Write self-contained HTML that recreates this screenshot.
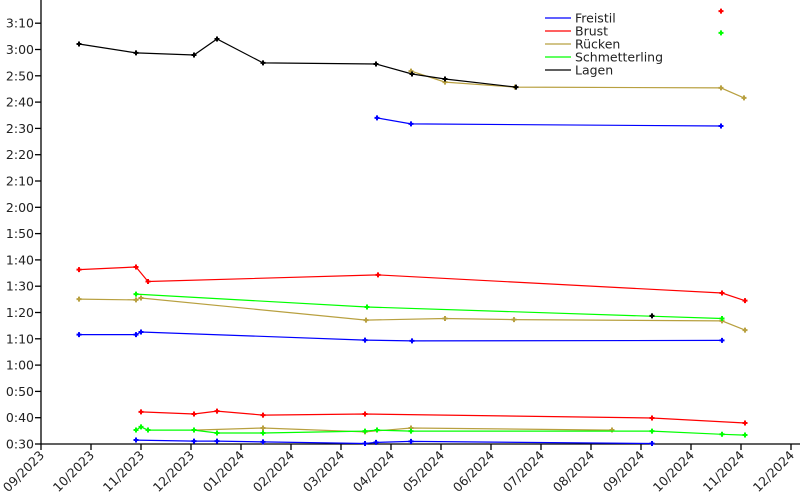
<!DOCTYPE html>
<html><head><meta charset="utf-8"><style>
html,body{margin:0;padding:0;background:#fff;}
svg{display:block;font-family:"DejaVu Sans","Liberation Sans",sans-serif;}
</style></head><body>
<svg id="chart" width="800" height="500" viewBox="0 0 800 500" xmlns="http://www.w3.org/2000/svg">
<g id="axes"></g>
<g id="series"></g>
<g id="legend"></g>
</svg>
<script>
// x in months since 09/2023, y in seconds
const monthLabels = ["09/2023","10/2023","11/2023","12/2023","01/2024","02/2024","03/2024","04/2024","05/2024","06/2024","07/2024","08/2024","09/2024","10/2024","11/2024","12/2024"];
const yTicks = [30,40,50,60,70,80,90,100,110,120,130,140,150,160,170,180,190];
const seriesNames = ["Freistil","Brust","Rücken","Schmetterling","Lagen"];
const seriesColors = ["#0000ff","#ff0000","#b8a040","#00ff00","#000000"];

const freistil50X = [1.90,3.06,3.52,4.44,6.48,6.70,7.40,12.22];
const freistil50Y = [31.5,31.1,31.1,30.8,30.2,30.6,31.0,30.2];
const freistil100X = [0.76,1.90,2.00,6.48,7.42,13.62];
const freistil100Y = [71.6,71.6,72.6,69.5,69.2,69.4];
const freistil200X = [6.72,7.40,13.60];
const freistil200Y = [154.0,151.7,150.9];

const brust50X = [2.00,3.06,3.52,4.44,6.48,12.22,14.08];
const brust50Y = [42.2,41.4,42.5,41.0,41.4,39.9,38.0];
const brust100X = [0.76,1.90,2.14,6.74,13.62,14.08];
const brust100Y = [96.3,97.3,91.8,94.3,87.4,84.5];
const brustSingleX = [13.60];
const brustSingleY = [194.6];

const ruecken50X = [3.06,4.44,6.48,7.40,11.42];
const ruecken50Y = [35.3,36.1,34.6,36.1,35.3];
const rueckenSingleX = [14.08];
const rueckenSingleY = [33.4];
const ruecken100X = [0.76,1.90,2.00,6.50,8.08,9.46,13.62,14.08];
const ruecken100Y = [85.1,84.8,85.5,77.1,77.7,77.3,76.8,73.3];
const ruecken200X = [7.40,8.08,9.48,13.60,14.06];
const ruecken200Y = [171.8,167.6,165.7,165.4,161.6];

const schm50X = [1.90,2.00,2.14,3.06,3.52,4.44,6.48,6.72,7.40,12.22,13.62,14.08];
const schm50Y = [35.3,36.5,35.3,35.3,34.2,34.2,34.9,35.3,34.9,34.9,33.7,33.4];
const schm100X = [1.90,6.52,13.62];
const schm100Y = [87.0,82.1,77.7];
const schmSingleX = [13.60];
const schmSingleY = [186.3];

const lagen200X = [0.76,1.90,3.06,3.52,4.44,6.70,7.42,8.08,9.50];
const lagen200Y = [182.1,178.7,177.9,184.0,174.9,174.5,170.7,168.8,165.7];
const lagenSingleX = [12.22];
const lagenSingleY = [78.7];

const NS="http://www.w3.org/2000/svg";
const X0=41, PXM=50, Y0=444, PXS=2.63;
function xs(m){return X0+m*PXM;}
function ys(s){return Y0-(s-30)*PXS;}
function mk(tag,attrs,parent){const e=document.createElementNS(NS,tag);for(const k in attrs)e.setAttribute(k,attrs[k]);parent.appendChild(e);return e;}
function fmt(s){const m=Math.floor(s/60),r=s%60;return m+":"+(r<10?"0":"")+r;}

const axes=document.getElementById("axes");
const ax=mk("line",{x1:X0,y1:0,x2:X0,y2:Y0,stroke:"#000","stroke-width":1.3},axes);


const bx=mk("line",{x1:X0,y1:Y0,x2:800,y2:Y0,stroke:"#000","stroke-width":1.3},axes);


yTicks.forEach(v=>{
  const y=ys(v);
  const t=mk("line",{x1:X0-6,y1:y,x2:X0,y2:y,stroke:"#000","stroke-width":1.3},axes);
  
  
  const l=mk("text",{x:X0-7,y:y+4.5,"text-anchor":"end","font-size":12.5,fill:"#222"},axes);
  l.textContent=fmt(v);
  
  
});
monthLabels.forEach((lab,i)=>{
  const x=xs(i);
  const t=mk("line",{x1:x,y1:Y0,x2:x,y2:Y0+6,stroke:"#000","stroke-width":1.3},axes);
  
  
  const l=mk("text",{x:x+4,y:Y0+12,"text-anchor":"end","font-size":12.5,fill:"#222",transform:`rotate(-45 ${x+4} ${Y0+12})`},axes);
  l.textContent=lab;
  
  
});

const sg=document.getElementById("series");
function marker(x,y,c,g){
  const p=mk("path",{d:`M${x-2.5},${y}H${x+2.5}M${x},${y-2.5}V${y+2.5}`,stroke:c,"stroke-width":2},g);
  
  
}
function draw(X,Y,c,name){
  const g=mk("g",{},sg);
  
  
  if(X.length>1){
    const pts=X.map((m,i)=>xs(m).toFixed(1)+","+ys(Y[i]).toFixed(1)).join(" ");
    const pl=mk("polyline",{points:pts,fill:"none",stroke:c,"stroke-width":1.2},g);
    
    
  }
  X.forEach((m,i)=>marker(xs(m),ys(Y[i]),c,g));
}
const [cF,cB,cR,cS,cL]=seriesColors;
draw(ruecken50X,ruecken50Y,cR,"ruecken-50");
draw(rueckenSingleX,rueckenSingleY,cR,"ruecken-50-single");
draw(schm50X,schm50Y,cS,"schmetterling-50");
draw(freistil50X,freistil50Y,cF,"freistil-50");
draw(brust50X,brust50Y,cB,"brust-50");
draw(ruecken100X,ruecken100Y,cR,"ruecken-100");
draw(schm100X,schm100Y,cS,"schmetterling-100");
draw(freistil100X,freistil100Y,cF,"freistil-100");
draw(brust100X,brust100Y,cB,"brust-100");
draw(lagenSingleX,lagenSingleY,cL,"lagen-100-single");
draw(freistil200X,freistil200Y,cF,"freistil-200");
draw(ruecken200X,ruecken200Y,cR,"ruecken-200");
draw(lagen200X,lagen200Y,cL,"lagen-200");
draw(brustSingleX,brustSingleY,cB,"brust-200-single");
draw(schmSingleX,schmSingleY,cS,"schmetterling-200-single");

const lg=document.getElementById("legend");
seriesNames.forEach((n,i)=>{
  const y=18+i*13;
  const g=mk("g",{},lg);
  
  
  mk("line",{x1:545,y1:y,x2:571,y2:y,stroke:seriesColors[i],"stroke-width":1.2},g);
  const t=mk("text",{x:575,y:y+4.5,"font-size":12.5,fill:"#222"},g);
  t.textContent=n;
});
</script>
</body></html>
